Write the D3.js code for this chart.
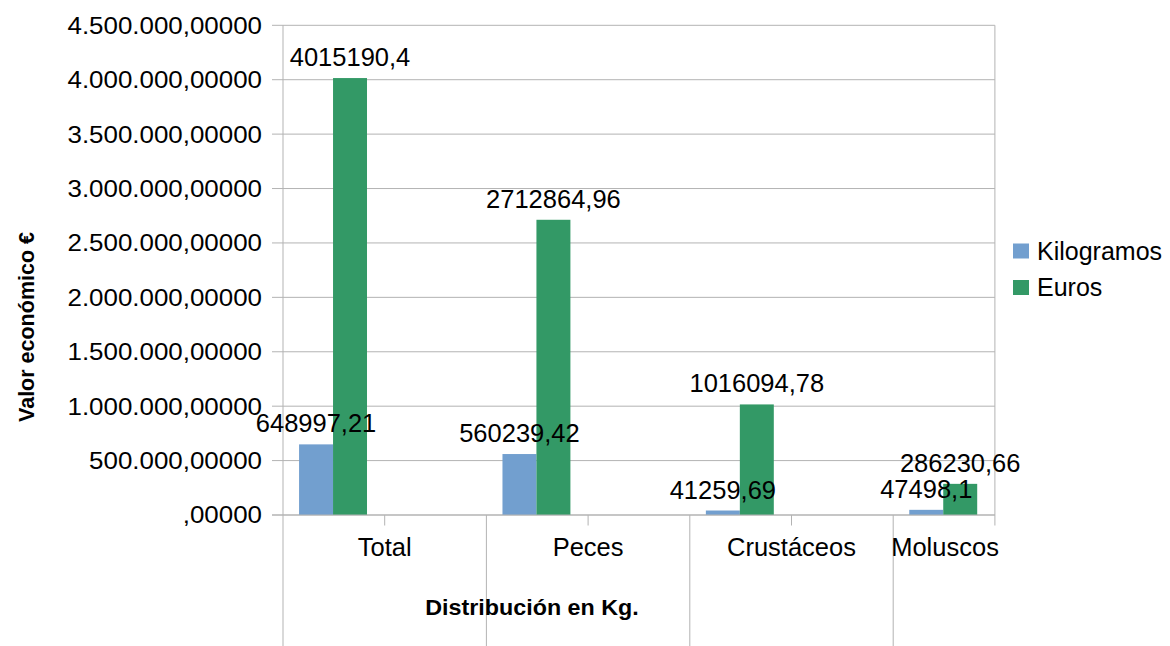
<!DOCTYPE html>
<html>
<head>
<meta charset="utf-8">
<script src="https://cdn.jsdelivr.net/npm/d3@7"></script>
<style>
  body { margin: 0; background: #ffffff; }
  text { font-family: "Liberation Sans", Arial, sans-serif; fill: #000000; }
</style>
</head>
<body>
<script>
// datos
const categories = ["Total", "Peces", "Crustáceos", "Moluscos"];
const series = ["Kilogramos", "Euros"];
const kilogramos = [648997.21, 560239.42, 41259.69, 47498.1];
const euros = [4015190.4, 2712864.96, 1016094.78, 286230.66];
const yTicks = [0, 500000, 1000000, 1500000, 2000000, 2500000, 3000000, 3500000, 4000000, 4500000];
const colors = ["#729fcf", "#339966"];

const width = 1170, height = 646;
const plotLeft = 283, plotTop = 25.3, plotBottom = 515;
const band = 203.4;

const svg = d3.select("body")
    .append("svg")
    .attr("width", width)
    .attr("height", height);

// escalas
const x = d3.scaleBand()
    .domain(categories)
    .range([plotLeft, plotLeft + band * categories.length])
    .paddingInner(0)
    .paddingOuter(0);
const bw = x.bandwidth();
const plotRight = plotLeft + bw * 3.5; // el área visible termina a mitad de la última categoría

const y = d3.scaleLinear()
    .domain([0, 4500000])
    .range([plotBottom, plotTop]);

const es = d3.formatLocale({decimal: ",", thousands: ".", grouping: [3], currency: ["", "€"]});
const fmtTick = v => es.format(",.5f")(v).replace(/^0,/, ",");
const fmtVal = v => String(v).replace(".", ",");

const lineColor = "#b3b3b3";

// líneas de la cuadrícula
svg.append("g")
    .selectAll("line")
    .data(yTicks)
    .enter().append("line")
    .attr("x1", plotLeft - 11)
    .attr("x2", plotRight)
    .attr("y1", d => y(d))
    .attr("y2", d => y(d))
    .attr("stroke", lineColor)
    .attr("stroke-width", 1);

// etiquetas del eje Y
svg.append("g")
    .selectAll("text")
    .data(yTicks)
    .enter().append("text")
    .attr("transform", d => `translate(262,${y(d)}) scale(1.08,1)`)
    .attr("dy", "0.35em")
    .attr("text-anchor", "end")
    .style("font-size", "24px")
    .text(d => fmtTick(d));

// eje Y y borde derecho
svg.append("line")
    .attr("x1", plotLeft).attr("x2", plotLeft)
    .attr("y1", plotTop).attr("y2", height)
    .attr("stroke", lineColor);
svg.append("line")
    .attr("x1", plotRight).attr("x2", plotRight)
    .attr("y1", plotTop).attr("y2", plotBottom + 10.5)
    .attr("stroke", lineColor);

// separadores de categorías (largos) y marcas cortas
svg.append("g")
    .selectAll("line")
    .data(categories.slice(1))
    .enter().append("line")
    .attr("x1", d => x(d))
    .attr("x2", d => x(d))
    .attr("y1", plotBottom)
    .attr("y2", height)
    .attr("stroke", lineColor);

svg.append("g")
    .selectAll("line")
    .data(categories.slice(0, 3))
    .enter().append("line")
    .attr("x1", d => x(d) + bw / 2)
    .attr("x2", d => x(d) + bw / 2)
    .attr("y1", plotBottom)
    .attr("y2", plotBottom + 10.5)
    .attr("stroke", lineColor);

// barras
const offset = bw * 0.079, barW = bw * 0.167;
const values = [kilogramos, euros];

series.forEach((s, si) => {
    const g = svg.append("g").attr("class", "serie");
    g.selectAll("rect")
        .data(categories)
        .enter().append("rect")
        .attr("x", d => x(d) + offset + si * barW)
        .attr("width", barW)
        .attr("y", (d, i) => y(values[si][i]))
        .attr("height", (d, i) => plotBottom - y(values[si][i]))
        .attr("fill", colors[si]);
});

// eje X (línea base)
svg.append("line")
    .attr("x1", plotLeft - 11).attr("x2", plotRight)
    .attr("y1", plotBottom).attr("y2", plotBottom)
    .attr("stroke", lineColor);

// etiquetas de datos
series.forEach((s, si) => {
    svg.append("g")
        .selectAll("text")
        .data(categories)
        .enter().append("text")
        .attr("x", d => x(d) + offset + si * barW + barW / 2)
        .attr("y", (d, i) => y(values[si][i]) - 12)
        .attr("text-anchor", "middle")
        .style("font-size", "25.5px")
        .text((d, i) => fmtVal(values[si][i]));
});

// etiquetas de categorías
svg.append("g")
    .selectAll("text")
    .data(categories)
    .enter().append("text")
    .attr("y", 556)
    .attr("text-anchor", "middle")
    .style("font-size", "25.5px")
    .text(d => d)
    .attr("x", function(d) {
        const w = this.getComputedTextLength();
        return Math.min(x(d) + bw / 2, plotRight + 4 - w / 2);
    });

// títulos de ejes
svg.append("text")
    .attr("transform", "translate(532,615) scale(1.06,1)")
    .attr("text-anchor", "middle")
    .style("font-size", "22px")
    .style("font-weight", "bold")
    .text("Distribución en Kg.");

svg.append("text")
    .attr("transform", "translate(34,327) rotate(-90)")
    .attr("text-anchor", "middle")
    .style("font-size", "21.5px")
    .style("font-weight", "bold")
    .text("Valor económico €");

// leyenda
const legend = svg.append("g")
    .selectAll("g")
    .data(series)
    .enter().append("g")
    .attr("transform", (d, i) => `translate(1013,${243.5 + i * 36.5})`);

legend.append("rect")
    .attr("width", 16)
    .attr("height", 15)
    .attr("fill", (d, i) => colors[i]);

legend.append("text")
    .attr("x", 24)
    .attr("y", 16)
    .style("font-size", "25px")
    .text(d => d);
</script>
</body>
</html>
